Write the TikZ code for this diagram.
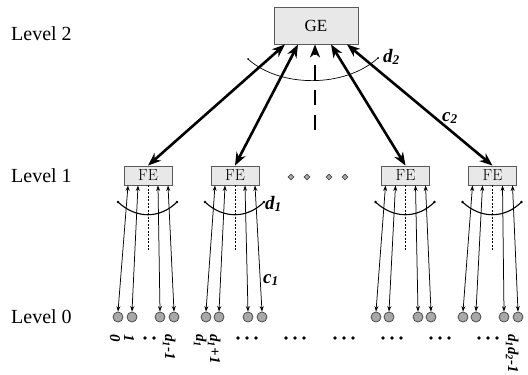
\documentclass[tikz,border=0pt]{standalone}
\usepackage{fontspec}
\newfontfamily\tms{Liberation Serif}
\usetikzlibrary{arrows.meta,shapes.geometric}
\definecolor{boxfill}{HTML}{E8E8E8}
\definecolor{boxborder}{HTML}{5A5A5A}
\definecolor{leaffill}{HTML}{A8A8A8}
\definecolor{leafborder}{HTML}{4A4A4A}
\begin{document}
\begin{tikzpicture}[x=1pt,y=-1pt,
 box/.style={draw=boxborder, fill=boxfill, line width=0.9pt, inner sep=0},
 gebox/.style={box, minimum width=84pt, minimum height=37pt, font=\tms\fontsize{17}{20}\selectfont},
 febox/.style={box, minimum width=48pt, minimum height=19pt, font=\fontsize{16}{18}\selectfont},
 bigarrow/.style={line width=2.6pt, {Stealth[length=13pt,width=10pt,inset=4pt]}-{Stealth[length=13pt,width=10pt,inset=4pt]}},
 smallarrow/.style={line width=0.75pt, {Stealth[length=5.5pt,width=4pt]}-{Stealth[length=5.5pt,width=4pt]}},
 leaf/.style={circle, draw=leafborder, fill=leaffill, line width=0.8pt, minimum size=10pt, inner sep=0},
 levellab/.style={anchor=base west, inner sep=0, font=\tms\fontsize{20}{24}\selectfont},
 symlab/.style={anchor=base west, inner sep=0, font=\tms\bfseries\itshape\fontsize{19}{22}\selectfont},
 lab0/.style={rotate=-90, anchor=base west, inner sep=0, font=\tms\bfseries\itshape\fontsize{15}{17}\selectfont},
 gem/.style={diamond, draw=leafborder, fill=leaffill, line width=0.6pt, minimum size=6pt, inner sep=0},
 fanarc/.style={line width=1.1pt},
 midline/.style={line width=0.5pt, dash pattern=on 2pt off 1.5pt},
]
\useasboundingbox (0,0) rectangle (528,375);

% level labels
\node[levellab] (lv2) at (11,40) {Level 2};
\node[levellab] (lv1) at (11,182) {Level 1};
\node[levellab] (lv0) at (11,323) {Level 0};

% GE and FE boxes
\node[gebox] (GE) at (316,25.5) {GE};
\foreach \i/\x in {1/148,2/235,3/405.5,4/492.5}
  \node[febox] (FE\i) at (\x,175.5) {FE};

% diamonds between FE2 and FE3
\foreach \k/\x in {1/291,2/307,3/329,4/345}
  \node[gem] (gm\k) at (\x,177) {};

% d2 arc
\draw[line width=0.7pt] (248,59) .. controls (280,88) and (345,88) .. (378,58);
\fill (248,59) circle (1pt) (378,58) circle (1pt);

% GE <-> FE arrows
\draw[bigarrow] ([xshift=-31pt]GE.south) -- (FE1.north);
\draw[bigarrow] ([xshift=-18pt]GE.south) -- (FE2.north);
\draw[bigarrow] ([xshift=15pt]GE.south) -- (FE3.north);
\draw[bigarrow] ([xshift=31pt]GE.south) -- (FE4.north);
\coordinate (dashend) at (315,130);
\draw[line width=2.6pt, dash pattern=on 15pt off 10pt, -{Stealth[length=13pt,width=10pt,inset=4pt]}] (dashend) -- ([xshift=-1pt]GE.south);

\node[symlab] (d2) at (383,62) {d\textsubscript{2}};
\node[symlab] (c2) at (442,121) {c\textsubscript{2}};

% leaves
\foreach \n/\x in {1/118,2/132,3/160,4/174,5/206,6/219,7/248,8/262,9/376,10/389,11/418,12/431,13/463,14/476,15/504,16/518}
  \node[leaf] (l\n) at (\x,317) {};

% FE -> leaves
\foreach \i/\a/\b/\c/\d in {1/1/2/3/4,2/5/6/7/8,3/9/10/11/12,4/13/14/15/16} {
  \draw[smallarrow] ([xshift=-20pt]FE\i.south) -- (l\a.north);
  \draw[smallarrow] ([xshift=-10pt]FE\i.south) -- (l\b.north);
  \draw[smallarrow] ([xshift=10pt]FE\i.south) -- (l\c.north);
  \draw[smallarrow] ([xshift=20pt]FE\i.south) -- (l\d.north);
  \draw[midline] (FE\i.south) -- ++(0,65);
}

% d1 arcs
\foreach \x in {148,235,405.5,492.5} {
  \draw[fanarc] (\x-30,202) .. controls (\x-12,219) and (\x+12,219) .. (\x+29,202);
  \fill (\x-30,202) circle (1.3pt) (\x+29,202) circle (1.3pt);
}

\node[symlab] (d1) at (265,209) {d\textsubscript{1}};
\node[symlab] (c1) at (263,283) {c\textsubscript{1}};

% level 0 labels
\node[lab0] (t0) at (110,334) {0};
\node[lab0] (t1) at (124,334) {1};
\node[lab0] (t2) at (165,334) {d\textsubscript{1}-1};
\node[lab0] (t3) at (196,334) {d\textsubscript{1}};
\node[lab0] (t4) at (210,334) {d\textsubscript{1}+1};
\node[lab0] (t5) at (508,334) {d\textsubscript{1}d\textsubscript{2}-1};

% dots
\fill (145,338) circle (1.9pt) (154,338) circle (1.9pt);
\foreach \c in {247,295,344,392,440,488}
  \fill (\c-9,338) circle (1.9pt) (\c,338) circle (1.9pt) (\c+9,338) circle (1.9pt);
\end{tikzpicture}
\end{document}
